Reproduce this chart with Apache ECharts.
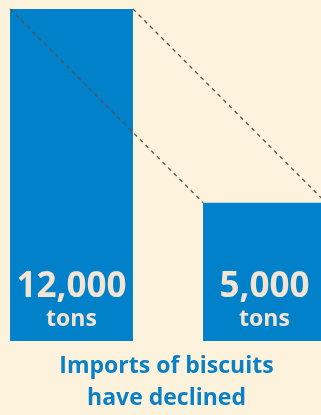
<!DOCTYPE html>
<html>
<head>
<meta charset="utf-8">
<script src="https://cdn.jsdelivr.net/npm/echarts@6/dist/echarts.min.js"></script>
<style>
  html, body { margin: 0; padding: 0; background: #fdf3dc; }
  #chart { width: 321px; height: 415px; }
</style>
</head>
<body>
<div id="chart"></div>
<script>
// Biscuit imports, before and after
const positions = [0, 1];
const tons = [12000, 5000];
const valueLabels = ['12,000', '5,000'];
const unitLabel = 'tons';
const titleLines = ['Imports of biscuits', 'have declined'];

const BAR_SHARE = 0.637;   // bar width as a share of the spacing between bars
const BLUE = '#0081c9';
const CREAM = '#f3e4d3';
const FONT = 'Open Sans';

const chart = echarts.init(document.getElementById('chart'));

const barData = positions.map((x, i) => [x, tons[i]]);

chart.setOption({
  backgroundColor: '#fdf3dc',
  animation: false,
  title: {
    text: titleLines.join('\n'),
    left: 166.5,
    top: 350,
    padding: 0,
    textAlign: 'center',
    textStyle: {
      color: '#0a80c6',
      fontFamily: FONT,
      fontWeight: 'bold',
      fontSize: 23,
      lineHeight: 32
    }
  },
  grid: { left: 0, right: 0, top: 9, bottom: 74 },
  xAxis: {
    type: 'value',
    min: -0.3705,
    max: 1.2927,
    show: false
  },
  yAxis: {
    type: 'value',
    min: 0,
    max: 12000,
    show: false
  },
  series: [
    {
      type: 'custom',
      data: barData,
      z: 2,
      renderItem: (params, api) => {
        const x = api.value(0);
        const v = api.value(1);
        const half = api.size([BAR_SHARE, 0])[0] / 2;
        const top = api.coord([x, v]);
        const base = api.coord([x, 0]);
        return {
          type: 'rect',
          shape: { x: top[0] - half, y: top[1], width: half * 2, height: base[1] - top[1] },
          style: { fill: BLUE },
          textContent: {
            style: {
              text: '{v|' + valueLabels[params.dataIndex] + '}\n{u|' + unitLabel + '}',
              align: 'center',
              rich: {
                v: { fill: CREAM, fontFamily: FONT, fontWeight: 'bold', fontSize: 35, lineHeight: 38 },
                u: { fill: CREAM, fontFamily: FONT, fontWeight: 'bold', fontSize: 23, lineHeight: 26 }
              }
            }
          },
          textConfig: { position: 'insideBottom', distance: 9 }
        };
      }
    },
    {
      // dashed guides joining the matching top corners of the two bars
      type: 'custom',
      data: [[0, 0]],
      z: 5,
      renderItem: (params, api) => {
        const half = api.size([BAR_SHARE, 0])[0] / 2;
        const p0 = api.coord(barData[0]);
        const p1 = api.coord(barData[1]);
        const style = { stroke: '#57534d', lineWidth: 1.3, lineDash: [4, 4], fill: null };
        return {
          type: 'group',
          children: [-1, 1].map((s) => ({
            type: 'line',
            shape: { x1: p0[0] + s * half, y1: p0[1], x2: p1[0] + s * half, y2: p1[1] },
            style: style
          }))
        };
      }
    }
  ]
});
</script>
</body>
</html>
